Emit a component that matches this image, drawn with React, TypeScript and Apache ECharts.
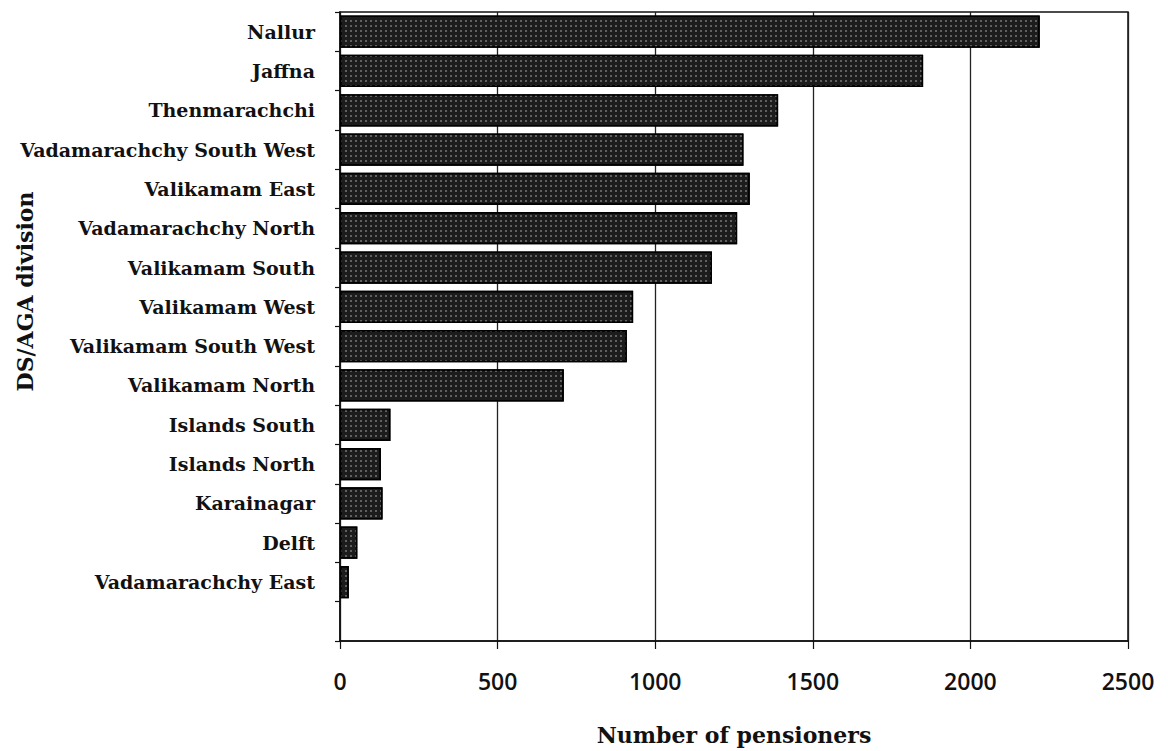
import React, { useEffect, useRef } from "react";
import * as echarts from "echarts";

const categories: string[] = [
  "Nallur",
  "Jaffna",
  "Thenmarachchi",
  "Vadamarachchy South West",
  "Valikamam East",
  "Vadamarachchy North",
  "Valikamam South",
  "Valikamam West",
  "Valikamam South West",
  "Valikamam North",
  "Islands South",
  "Islands North",
  "Karainagar",
  "Delft",
  "Vadamarachchy East",
  "",
];

const pensioners: (number | string)[] = [
  2220, 1850, 1390, 1280, 1300, 1260, 1180, 930, 910, 710, 160, 130, 135, 55, 28, "-",
];

const xTicks = { min: 0, max: 2500, interval: 500 };

export default function App() {
  const ref = useRef<HTMLDivElement>(null);
  useEffect(() => {
    if (!ref.current) return;
    const chart = echarts.init(ref.current, undefined, { renderer: "svg" });
    const serif = "DejaVu Serif";
    chart.setOption({
      animation: false,
      backgroundColor: "#ffffff",
      aria: { enabled: true, decal: { show: true } },
      grid: {
        left: 340,
        right: 40,
        top: 12,
        bottom: 110,
        show: true,
        borderColor: "#111",
        borderWidth: 1.5,
        containLabel: false,
        outerBoundsMode: "none",
      },
      xAxis: {
        type: "value",
        min: xTicks.min,
        max: xTicks.max,
        interval: xTicks.interval,
        name: "Number of pensioners",
        nameLocation: "middle",
        nameGap: 83,
        nameMoveOverlap: false,
        nameTextStyle: {
          fontFamily: serif,
          fontWeight: "bold",
          fontSize: 22,
          color: "#111",
        },
        axisLine: { show: true, lineStyle: { color: "#111", width: 1.5 } },
        axisTick: { show: true, inside: false, length: 8, lineStyle: { color: "#111", width: 1.2 } },
        axisLabel: {
          margin: 28,
          fontFamily: "Open Sans",
          fontWeight: 600,
          fontSize: 23,
          color: "#111",
          formatter: (v: number) => String(v),
        },
        splitLine: { show: true, lineStyle: { color: "#222", width: 1.3 } },
      },
      yAxis: {
        type: "category",
        data: categories,
        inverse: true,
        name: "DS/AGA division",
        nameLocation: "middle",
        nameGap: 304,
        nameMoveOverlap: false,
        nameRotate: 90,
        nameTextStyle: {
          fontFamily: serif,
          fontWeight: "bold",
          fontSize: 22,
          color: "#111",
          padding: [0, 0, 0, 70],
        },
        axisLine: { show: true, lineStyle: { color: "#111", width: 1.5 } },
        axisTick: { show: true, inside: false, length: 5, lineStyle: { color: "#111", width: 1.2 } },
        axisLabel: {
          margin: 25,
          fontFamily: serif,
          fontWeight: "bold",
          fontSize: 19,
          color: "#111",
        },
        splitLine: { show: false },
      },
      series: [
        {
          type: "bar",
          data: pensioners,
          barCategoryGap: "18%",
          itemStyle: {
            color: "#1c1c1c",
            borderColor: "#000",
            borderWidth: 1.5,
            decal: {
              symbol: "rect",
              symbolSize: 1,
              color: "rgba(150,150,150,0.55)",
              dashArrayX: [2, 3],
              dashArrayY: [2, 3],
              rotation: 0,
            },
          },
        },
      ],
    });
    return () => chart.dispose();
  }, []);
  return <div ref={ref} style={{ width: 1168, height: 751, position: "absolute", left: 0, top: 0 }} />;
}
